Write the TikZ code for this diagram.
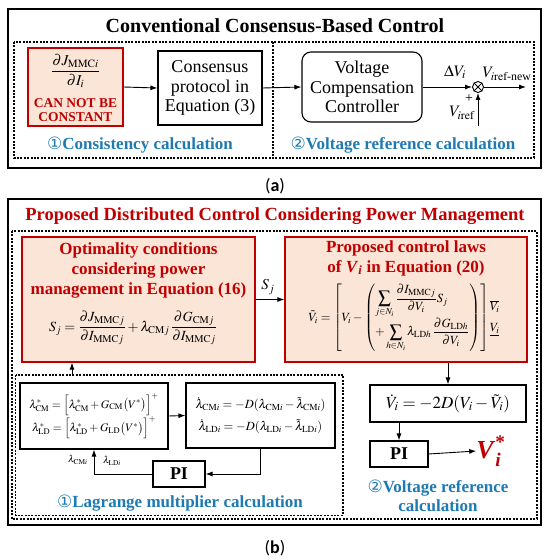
\documentclass[tikz,border=0pt]{standalone}
\usepackage{amsmath}
\usepackage{mathptmx}
\usepackage{fontspec}
\setmainfont{Liberation Serif}
\newfontfamily\circfont{DejaVu Sans}
\newfontfamily\labfont{Carlito}
\usetikzlibrary{arrows.meta}
\definecolor{dred}{RGB}{192,0,0}
\definecolor{pch}{RGB}{251,229,214}
\definecolor{bl}{RGB}{30,122,178}
\newcommand{\fs}[1]{\fontsize{#1}{#1}\selectfont}
\newcommand{\bi}[1]{\textbf{\textit{#1}}}
\begin{document}
\begin{tikzpicture}[x=1pt,y=-1pt,
  rbox/.style={draw=dred,line width=1.3pt,fill=pch,inner sep=0pt},
  bbox/.style={draw,line width=1.1pt,fill=white,inner sep=0pt,align=center},
  dbox/.style={dash pattern=on 2pt off 1.4pt,line width=1.2pt},
  arr/.style={-{Latex[length=7pt,width=5pt]},line width=0.9pt},
  outer/.style={line width=1.6pt},
  txt/.style={inner sep=0pt,align=center},
  bluelab/.style={txt,text=bl,font=\fs{17}\bfseries},
  redtitle/.style={txt,text=dred,font=\fs{17}\bfseries,align=center}]
\useasboundingbox (0,0) rectangle (550,560);
% ---------------- panel (a)
\draw[outer] (8,9) rectangle (541,168);
\node[txt,font=\fs{20}\bfseries] (ta) at (275,26) {Conventional Consensus-Based Control};
\draw[dbox] (14,42) rectangle (534,158);
\draw[dbox] (273,42) -- (273,158);
\node[rbox,minimum width=95pt,minimum height=78pt] (r1) at (75.5,87) {};
\node[txt,font=\fs{15}] (fr) at (75.5,71) {$\dfrac{\partial J_{\mathrm{MMC}i}}{\partial I_i}$};
\node[txt,text=dred,font=\fs{13.5}\bfseries] (cn) at (75.5,110) {CAN NOT BE\\[1pt]CONSTANT};
\node[bbox,minimum width=104pt,minimum height=74pt,font=\fontsize{18}{19.5}\selectfont] (c1) at (210,88) {Consensus\\protocol in\\Equation (3)};
\node[bbox,rounded corners=9pt,minimum width=120pt,minimum height=70pt,font=\fontsize{18}{19.5}\selectfont] (v1) at (362,87) {Voltage\\Compensation\\Controller};
\node[circle,draw,line width=0.9pt,minimum size=11pt,inner sep=0pt] (s1) at (478,87) {};
\draw[line width=0.8pt] (s1.north west) -- (s1.south east) (s1.north east) -- (s1.south west);
\coordinate (e1) at (526,87);
\coordinate (b1) at (478,126);
\draw[arr] (r1.east) -- (c1.west);
\draw[arr] (c1.east) -- (v1.west);
\draw[arr] (v1.east) -- (s1.west);
\draw[arr] (s1.east) -- (e1);
\draw[arr] (b1) -- (s1.south);
\node[txt,font=\fs{16}] (dv) at (455,72) {$\Delta V_i$};
\node[txt,font=\fs{16}] (vn) at (507,74) {$V_{i\mathrm{ref}\text{-new}}$};
\node[txt,font=\fs{14}] (pl) at (469,99) {+};
\node[txt,font=\fs{16}] (vr) at (462,113) {$V_{i\mathrm{ref}}$};
\node[bluelab] (l1) at (140,145) {{\circfont\mdseries ①}Consistency calculation};
\node[bluelab] (l2) at (403,145) {{\circfont\mdseries ②}Voltage reference calculation};
\node[txt,font=\labfont\fs{18}] (la) at (275,186) {(\textbf{a})};
% ---------------- panel (b)
\draw[outer] (8,199) rectangle (541,525);
\node[redtitle,font=\fs{18.5}\bfseries] (tb) at (275,216) {Proposed Distributed Control Considering Power Management};
\draw[dbox] (12,231) rectangle (537,519);
\draw[dbox] (15.5,375) rectangle (343,515.5);
% left red box
\node[rbox,minimum width=233pt,minimum height=125pt] (rL) at (138.5,299.5) {};
\node[redtitle,font=\fontsize{17}{20}\selectfont\bfseries] (tL) at (138.5,270) {Optimality conditions\\considering power\\management in Equation (16)};
\node[txt,font=\fs{14}] (eL) at (133,328) {$S_j=\dfrac{\partial J_{\mathrm{MMC}j}}{\partial I_{\mathrm{MMC}j}}+\lambda_{\mathrm{CM}j}\,\dfrac{\partial G_{\mathrm{CM}j}}{\partial I_{\mathrm{MMC}j}}$};
% right red box
\node[rbox,minimum width=242pt,minimum height=125pt] (rR) at (406,299.5) {};
\node[redtitle,font=\fontsize{17}{20}\selectfont\bfseries] (tR) at (406,258) {Proposed control laws\\of $\bi{V}_{\bi{i}}$ in Equation (20)};
\node[txt,font=\fs{12.5}] (eR) at (404,318) {$\tilde{V}_i=\left[V_i-\left(\begin{array}{@{}l@{}}\displaystyle\sum_{j\in N_i}\frac{\partial I_{\mathrm{MMC}j}}{\partial V_i}S_j\\[1pt]\displaystyle+\sum_{h\in N_i}\lambda_{\mathrm{LD}h}\,\frac{\partial G_{\mathrm{LD}h}}{\partial V_i}\end{array}\right)\right]\begin{array}{@{}l@{}}\overline{V_i}\\[8pt]\underline{V_i}\end{array}$};
\draw[arr] (rL.east) -- (rR.west);
\node[txt,font=\fs{15}] (sj) at (268,287) {$S_j$};
% voltage reference column
\node[bbox,minimum width=156pt,minimum height=37pt,font=\fs{17}] (vd) at (448,403.5) {$\dot{V}_i=-2D(V_i-\tilde{V}_i)$};
\draw[arr] (rR.south -| vd.north) -- (vd.north);
\node[bbox,minimum width=58pt,minimum height=26pt,font=\fs{18}\bfseries] (p2) at (399,454) {PI};
\draw[arr] (vd.south -| p2.north) -- (p2.north);
\node[txt,text=dred,font=\fs{26}] (vs) at (491,451) {$\bi{V}_{\bi{i}}^{\textbf{*}}$};
\draw[arr] (p2.east) -- (vs.west);
\node[bluelab,font=\fontsize{17}{19}\selectfont\bfseries] (l4) at (438,496) {{\circfont\mdseries ②}Voltage reference\\calculation};
% Lagrange column
\node[bbox,minimum width=148pt,minimum height=66pt,font=\fontsize{11.5}{22}\selectfont] (ls) at (94,416) {$\lambda^*_{\mathrm{CM}}=\Bigl[\lambda^*_{\mathrm{CM}}+G_{\mathrm{CM}}\bigl(V^*\bigr)\Bigr]^+$\\$\lambda^*_{\mathrm{LD}}=\Bigl[\lambda^*_{\mathrm{LD}}+G_{\mathrm{LD}}\bigl(V^*\bigr)\Bigr]^+$};
\node[bbox,minimum width=149pt,minimum height=65pt,font=\fontsize{12.5}{22}\selectfont] (ld) at (260.5,415.5) {$\dot{\lambda}_{\mathrm{CM}i}=-D(\lambda_{\mathrm{CM}i}-\tilde{\lambda}_{\mathrm{CM}i})$\\$\dot{\lambda}_{\mathrm{LD}i}=-D(\lambda_{\mathrm{LD}i}-\tilde{\lambda}_{\mathrm{LD}i})$};
\draw[arr] (ls.east) -- (ld.west);
\node[bbox,minimum width=52pt,minimum height=26pt,font=\fs{18}\bfseries] (p1) at (179,474) {PI};
\draw[arr] (ld.south) |- (p1.east);
\draw[arr] (p1.west) -| (ls.south);
\node[txt,font=\fs{10}] (lc) at (78,460) {$\lambda_{\mathrm{CM}i}$};
\node[txt,font=\fs{10}] (ll) at (112,461) {$\lambda_{\mathrm{LD}i}$};
\coordinate (lt) at (72,375);
\draw[arr] (lt) -- (lt |- rL.south);
\node[bluelab] (l3) at (180,503) {{\circfont\mdseries ①}Lagrange multiplier calculation};
\node[txt,font=\labfont\fs{18}] (lb) at (275,548) {(\textbf{b})};
\end{tikzpicture}
\end{document}
